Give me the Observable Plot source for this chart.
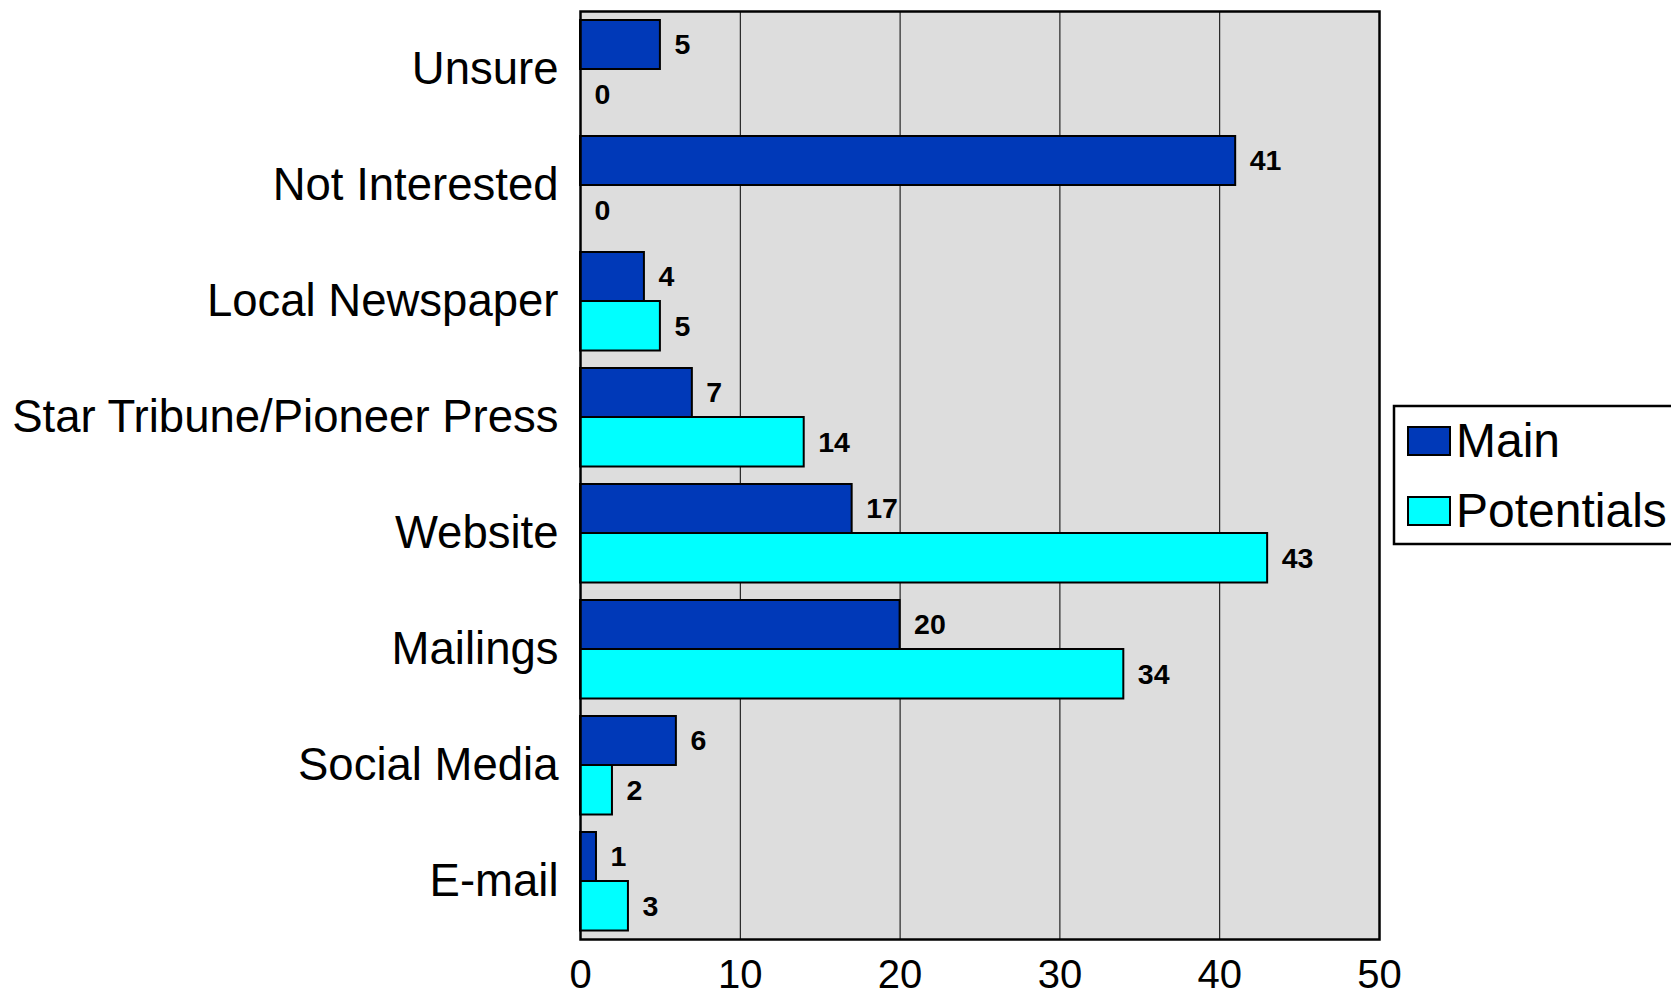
<!DOCTYPE html>
<html>
<head>
<meta charset="utf-8">
<script src="https://cdn.jsdelivr.net/npm/d3@7"></script>
<script src="https://cdn.jsdelivr.net/npm/@observablehq/plot@0.6"></script>
<style>
  html, body { margin: 0; padding: 0; background: #fff; }
  #chart { position: relative; width: 1671px; height: 998px; }
</style>
</head>
<body>
<div id="chart"></div>
<script>
const categories = ["Unsure", "Not Interested", "Local Newspaper", "Star Tribune/Pioneer Press", "Website", "Mailings", "Social Media", "E-mail"];
const mainValues = [5, 41, 4, 7, 17, 20, 6, 1];
const potentialValues = [0, 0, 5, 14, 43, 34, 2, 3];
const seriesNames = ["Main", "Potentials"];
const seriesColors = ["#0039b8", "#00ffff"];
const xTicks = [0, 10, 20, 30, 40, 50];

const mainData = categories.map((c, i) => ({category: c, value: mainValues[i]}));
const potData = categories.map((c, i) => ({category: c, value: potentialValues[i]}));

const font = "Arial, 'Liberation Sans', sans-serif";

const chart = Plot.plot({
  width: 1671,
  height: 998,
  marginLeft: 580,
  marginRight: 292,
  marginTop: 11,
  marginBottom: 59,
  style: {fontFamily: font, background: "white", color: "black", overflow: "visible"},
  x: {domain: [0, 50], ticks: xTicks},
  y: {domain: categories, padding: 0},
  marks: [
    Plot.frame({fill: "#dddddd", stroke: null}),
    Plot.gridX(xTicks.slice(1, -1), {stroke: "black", strokeOpacity: 1, strokeWidth: 1}),
    Plot.barX(mainData, {x: "value", y: "category", fill: seriesColors[0], stroke: "black", strokeWidth: 2, insetTop: 9, insetBottom: 58}),
    Plot.barX(potData, {x: "value", y: "category", fill: seriesColors[1], stroke: "black", strokeWidth: 2, insetTop: 58, insetBottom: 8.5}),
    Plot.text(mainData, {x: "value", y: "category", text: d => String(d.value), textAnchor: "start", dx: 14, dy: -24.5, fontSize: 28.5, fontWeight: "bold", fill: "black"}),
    Plot.text(potData, {x: "value", y: "category", text: d => String(d.value), textAnchor: "start", dx: 14, dy: 25, fontSize: 28.5, fontWeight: "bold", fill: "black"}),
    Plot.frame({stroke: "black", strokeWidth: 2.5}),
    Plot.axisX(xTicks, {tickSize: 0, tickPadding: 20, fontSize: 40, label: null}),
    Plot.axisY({tickSize: 0, tickPadding: 22, fontSize: 45.5, label: null})
  ]
});

document.getElementById("chart").appendChild(chart);

// Legend
const svg = d3.select(chart);
const lg = svg.append("g").attr("font-family", font).attr("text-anchor", "start");
lg.append("rect").attr("x", 1394).attr("y", 406).attr("width", 290).attr("height", 138)
  .attr("fill", "white").attr("stroke", "black").attr("stroke-width", 2.5);
seriesNames.forEach((name, i) => {
  const y0 = 427 + i * 70;
  lg.append("rect").attr("x", 1408).attr("y", y0).attr("width", 42).attr("height", 28)
    .attr("fill", seriesColors[i]).attr("stroke", "black").attr("stroke-width", 2);
  lg.append("text").attr("x", 1456).attr("y", y0 + 30).attr("font-size", 48)
    .attr("text-anchor", "start").attr("fill", "black").text(name);
});
</script>
</body>
</html>
